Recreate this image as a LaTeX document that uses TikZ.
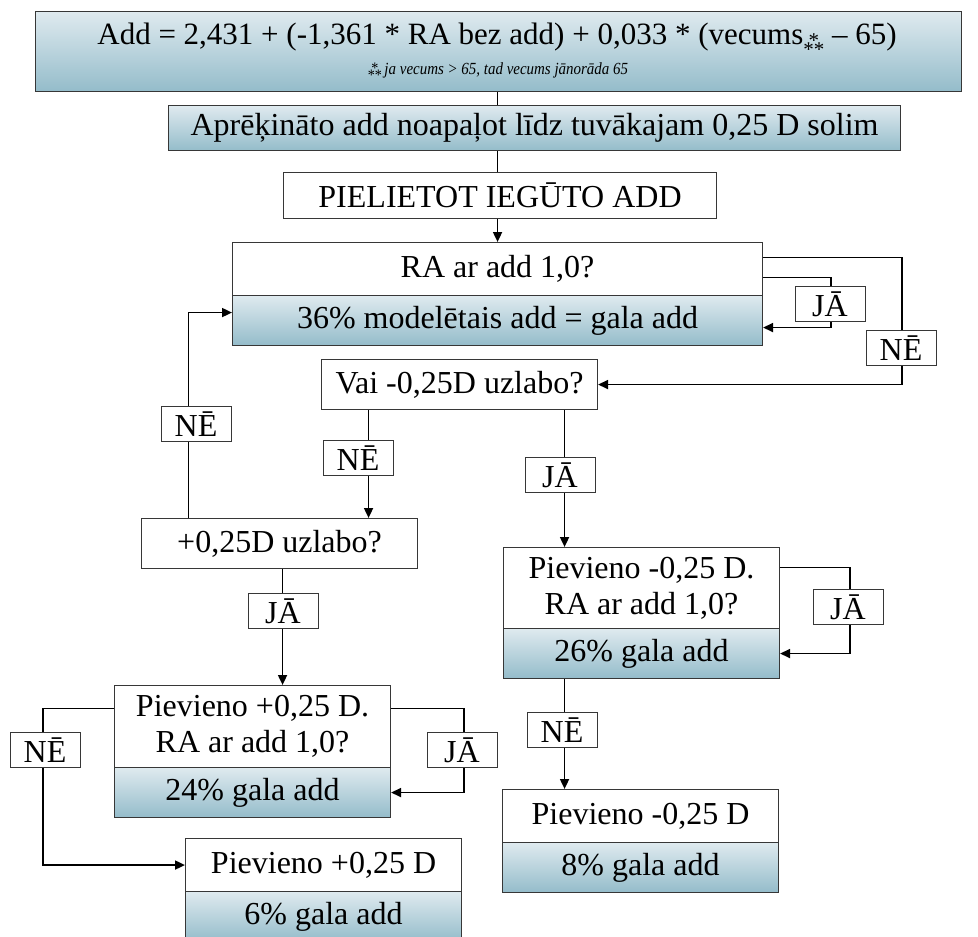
\documentclass[tikz,border=0pt]{standalone}
\usepackage{fontspec}
\usepackage{graphicx}
\setmainfont{Liberation Serif}
\usetikzlibrary{arrows.meta,calc}
\definecolor{gtop}{RGB}{223,234,239}
\definecolor{gbot}{RGB}{148,188,202}
\definecolor{bord}{RGB}{55,55,55}
\newcommand\asterstack[1]{\raisebox{#1}{\vbox{\offinterlineskip\halign{\hfil##\hfil\cr *\cr\noalign{\kern-0.22em}**\cr}}}}
\tikzset{
 box/.style={draw=bord, line width=1.1pt, fill=white, inner sep=0pt, anchor=north west,
   font=\fontsize{32}{36}\selectfont, align=center},
 gbox/.style={box, top color=gtop, bottom color=gbot},
 txt/.style={inner sep=0pt},
 lbl/.style={draw=bord, line width=1pt, fill=white, inner sep=0pt, minimum width=70pt,
   minimum height=35pt, font=\fontsize{32}{32}\selectfont},
 conn/.style={line width=1.8pt},
 arr/.style={conn, -{Triangle[length=10pt,width=9pt]}},
}
\begin{document}
\begin{tikzpicture}[x=1pt,y=-1pt]
\useasboundingbox (0,0) rectangle (978,937);
% boxes
\node[gbox, minimum width=926pt, minimum height=80pt] (f) at (35,11) {};
\node[txt, font=\fontsize{31}{34}\selectfont] (f1) at (497,40)
 {Add = 2,431 + (-1,361 * RA bez add) + 0,033 * (vecums{\fontsize{21}{21}\selectfont\asterstack{-12pt}} – 65)};
\node[txt, font=\fontsize{17}{19}\selectfont\itshape] (f2) at (498,72)
 {\scalebox{0.88}[1]{{\fontsize{16}{16}\selectfont\upshape\asterstack{-6pt}}\,ja vecums > 65, tad vecums jānorāda 65}};
\node[gbox, minimum width=732pt, minimum height=45pt] (b2) at (168,105) {Aprēķināto add noapaļot līdz tuvākajam 0,25 D solim};
\node[box, minimum width=433pt, minimum height=46pt] (b3) at (283,172) {PIELIETOT IEGŪTO ADD};
\node[box, minimum width=530pt, minimum height=53pt] (b4t) at (232,242) {RA ar add 1,0?};
\node[gbox, minimum width=530pt, minimum height=50pt] (b4b) at (232,295) {36\% modelētais add = gala add};
\node[box, minimum width=276pt, minimum height=50pt] (vai) at (321,359) {Vai -0,25D uzlabo?};
\node[box, minimum width=276pt, minimum height=50pt] (plus) at (141,518) {+0,25D uzlabo?};
\node[box, minimum width=276pt, minimum height=81pt] (m1t) at (503,547) {Pievieno -0,25 D.\\RA ar add 1,0?};
\node[gbox, minimum width=276pt, minimum height=50pt] (m1b) at (503,628) {26\% gala add};
\node[box, minimum width=276pt, minimum height=82pt] (p1t) at (114,685) {Pievieno +0,25 D.\\RA ar add 1,0?};
\node[gbox, minimum width=276pt, minimum height=50pt] (p1b) at (114,767) {24\% gala add};
\node[box, minimum width=276pt, minimum height=53pt] (m2t) at (502,789) {Pievieno -0,25 D};
\node[gbox, minimum width=276pt, minimum height=50pt] (m2b) at (502,842) {8\% gala add};
\node[box, minimum width=276pt, minimum height=53pt] (p2t) at (185,838) {Pievieno +0,25 D};
\node[gbox, minimum width=276pt, minimum height=50pt] (p2b) at (185,891) {6\% gala add};
% connectors
\draw[conn] ([xshift=-1pt]f.south) -- ([xshift=-1pt]f.south |- b2.north);
\draw[conn] ([xshift=-2.5pt]b3.north |- b2.south) -- ([xshift=-2.5pt]b3.north);
\draw[arr] ([xshift=-2.5pt]b3.south) -- ([xshift=-2.5pt]b3.south |- b4t.north);
\draw[arr] ([yshift=-8.5pt]b4t.east) -- ++(68,0) |- ([yshift=-7pt]b4b.east);
\draw[arr] ([yshift=11.5pt]b4t.east) -- ++(139,0) |- (vai.east);
\draw[arr] ([xshift=-91pt]vai.south) -- ([xshift=-91pt]vai.south |- plus.north);
\draw[arr] ([xshift=105pt]vai.south) -- ([xshift=105pt]vai.south |- m1t.north);
\draw[arr] ([xshift=-91pt]plus.north) |- ([yshift=8pt]b4b.west);
\draw[arr] ([xshift=3pt]plus.south) -- ([xshift=3pt]plus.south |- p1t.north);
\draw[arr] ([yshift=18pt]p1t.east) -- ++(73,0) |- (p1b.east);
\draw[arr] ([yshift=18pt]p1t.west) -- ++(-71,0) |- (p2t.west);
\draw[arr] ([yshift=20.5pt]m1t.east) -- ++(70,0) |- (m1b.east);
\draw[arr] ([xshift=-77pt]m1b.south) -- ([xshift=-77pt]m1b.south |- m2t.north);
% labels
\node[lbl] (ja1) at (830,304) {JĀ};
\node[lbl] (ne1) at (901,348) {NĒ};
\node[lbl] (ne3) at (358,458) {NĒ};
\node[lbl] (ne2) at (196,424) {NĒ};
\node[lbl] (ja2) at (560,475) {JĀ};
\node[lbl] (ja3) at (283,611) {JĀ};
\node[lbl] (ja4) at (462,750) {JĀ};
\node[lbl] (ne4) at (45,750) {NĒ};
\node[lbl] (ja5) at (848,607) {JĀ};
\node[lbl] (ne5) at (562,730) {NĒ};
\end{tikzpicture}
\end{document}
